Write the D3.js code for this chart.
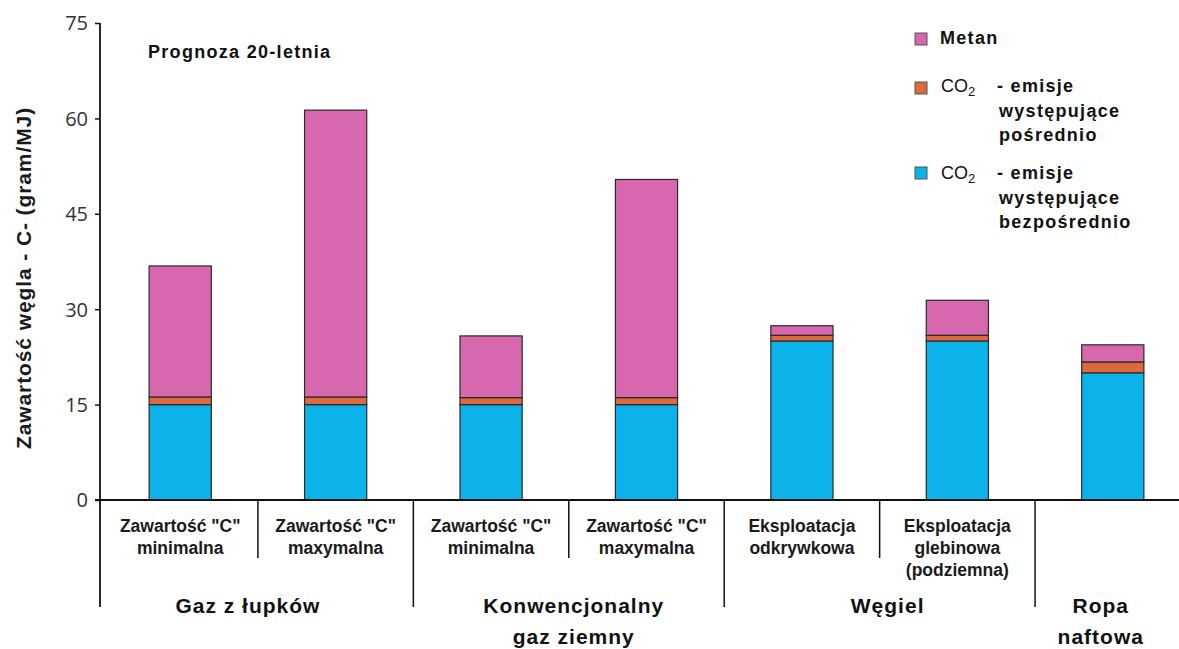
<!DOCTYPE html>
<html><head><meta charset="utf-8">
<script src="https://cdn.jsdelivr.net/npm/d3@7"></script>
<style>
body{margin:0;background:#fff;}
svg{display:block;}
</style></head>
<body>
<svg id="chart" width="1179" height="649"></svg>
<script>
const categories = ["Gaz z łupków – min","Gaz z łupków – max","Konwencjonalny – min","Konwencjonalny – max","Węgiel – odkrywkowa","Węgiel – glebinowa","Ropa naftowa"];
const subLabels = [["Zawartość \"C\"","minimalna"],["Zawartość \"C\"","maxymalna"],["Zawartość \"C\"","minimalna"],["Zawartość \"C\"","maxymalna"],["Eksploatacja","odkrywkowa"],["Eksploatacja","glebinowa","(podziemna)"],[]];
const direct   = [15, 15, 15, 15, 25, 25, 20];
const indirect = [1.2, 1.2, 1.1, 1.1, 0.9, 0.9, 1.7];
const methane  = [20.6, 45.1, 9.7, 34.3, 1.5, 5.5, 2.7];
const groupNames = [["Gaz z łupków"], ["Konwencjonalny","gaz ziemny"], ["Węgiel"], ["Ropa","naftowa"]];
const groupFrom = [0, 2, 4, 6];
const groupTo   = [1, 3, 5, 6];
const yTicks = [0, 15, 30, 45, 60, 75];
const seriesKeys = ["direct","indirect","methane"];

// styles / layout
const colors = {direct:"#0cb3ea", indirect:"#dc6a3e", methane:"#d768ad"};
const groupLabelShift = [-10, 5, 8, -12];
const SANS = "'Liberation Sans',Arial,sans-serif";

const svg = d3.select("#chart");
const idx = categories.map((c,i)=>i);
const x = d3.scaleBand().domain(idx).range([102.5, 1190.5]).paddingInner(0.6).paddingOuter(0.3);
const y = d3.scaleLinear().domain([0, 75]).range([500, 23]);

const rows = idx.map(i => ({i, direct: direct[i], indirect: indirect[i], methane: methane[i]}));
const stack = d3.stack().keys(seriesKeys)(rows);

svg.append("g").selectAll("g").data(stack).join("g")
  .attr("fill", d => colors[d.key])
  .selectAll("rect").data(d => d).join("rect")
  .attr("x", d => x(d.data.i))
  .attr("width", x.bandwidth())
  .attr("y", d => y(d[1]))
  .attr("height", d => y(d[0]) - y(d[1]))
  .attr("stroke", "#2a2a2a").attr("stroke-width", 1.2);

// y axis
const yAxis = d3.axisLeft(y).tickValues(yTicks).tickSize(5).tickSizeOuter(0).tickPadding(7);
const ga = svg.append("g").attr("transform","translate(100,0)").call(yAxis);
ga.select(".domain").remove();
ga.selectAll(".tick line").attr("stroke","#111").attr("stroke-width",1.5);
ga.selectAll(".tick text").attr("font-family","'Open Sans', sans-serif").attr("font-size",20).attr("fill","#333").attr("dy","0.34em");
svg.append("line").attr("x1",100).attr("x2",100).attr("y1",y(75)).attr("y2",607).attr("stroke","#111").attr("stroke-width",1.8);
// x axis line
svg.append("line").attr("x1",95).attr("x2",1179).attr("y1",y(0)).attr("y2",y(0)).attr("stroke","#111").attr("stroke-width",1.8);

// separators
const step = x.step();
idx.forEach(i => {
  if (i === 0) return;
  const bx = x(i) - (step - x.bandwidth())/2;
  const isGroup = groupFrom.includes(i);
  svg.append("line").attr("x1",bx).attr("x2",bx).attr("y1",y(0)).attr("y2", isGroup ? 607 : 558)
    .attr("stroke","#111").attr("stroke-width",1.5);
});

// sub labels
idx.forEach(i => {
  const cx = x(i) + x.bandwidth()/2;
  subLabels[i].forEach((t,k) => {
    svg.append("text").attr("x",cx).attr("y",532 + k*22).attr("text-anchor","middle")
      .attr("font-family",SANS).attr("font-weight","bold")
      .attr("font-size",17.5).attr("fill","#1a1a1a").text(t);
  });
});

// group labels
groupNames.forEach((names, gi) => {
  const x0 = x(groupFrom[gi]), x1 = x(groupTo[gi]) + x.bandwidth();
  const cx = (x0 + x1)/2 + groupLabelShift[gi];
  names.forEach((t,k) => {
    svg.append("text").attr("x",cx).attr("y",613 + k*31).attr("text-anchor","middle")
      .attr("font-family",SANS).attr("font-weight","bold").attr("letter-spacing",1)
      .attr("font-size",21).attr("fill","#111").text(t);
  });
});

// y title
svg.append("text").attr("transform","translate(31,278) rotate(-90)").attr("text-anchor","middle")
  .attr("font-family",SANS).attr("font-weight","bold").attr("letter-spacing",0.9)
  .attr("font-size",21).attr("fill","#1a1a1a").text("Zawartość węgla - C- (gram/MJ)");

// annotation
svg.append("text").attr("x",148).attr("y",58)
  .attr("font-family",SANS).attr("font-weight","bold").attr("letter-spacing",1.3)
  .attr("font-size",18).attr("fill","#111").text("Prognoza 20-letnia");

// legend
const legend = [
  {key:"methane", y:33, base:44, lines:null},
  {key:"indirect", y:82, base:92, lines:["występujące","pośrednio"]},
  {key:"direct", y:167, base:179, lines:["występujące","bezpośrednio"]}
];
legend.forEach(l => {
  svg.append("rect").attr("x",915).attr("y",l.y).attr("width",12).attr("height",12)
    .attr("fill",colors[l.key]).attr("stroke","#555").attr("stroke-width",1);
  if (!l.lines) {
    svg.append("text").attr("x",940).attr("y",l.base).attr("font-family",SANS).attr("font-weight","bold")
      .attr("letter-spacing",1.3).attr("font-size",18).attr("fill","#111").text("Metan");
  } else {
    const t = svg.append("text").attr("x",941).attr("y",l.base).attr("font-family",SANS).attr("font-size",18).attr("fill","#111");
    t.append("tspan").text("CO");
    t.append("tspan").attr("font-size",13).attr("dy",4).text("2");
    svg.append("text").attr("x",997).attr("y",l.base).attr("font-family",SANS).attr("font-weight","bold")
      .attr("letter-spacing",1.3).attr("font-size",18).attr("fill","#111").text("- emisje");
    l.lines.forEach((s,k) => {
      svg.append("text").attr("x",999).attr("y",l.base + 24.5*(k+1)).attr("font-family",SANS).attr("font-weight","bold")
        .attr("letter-spacing",1.3).attr("font-size",18).attr("fill","#111").text(s);
    });
  }
});
</script>
</body></html>
